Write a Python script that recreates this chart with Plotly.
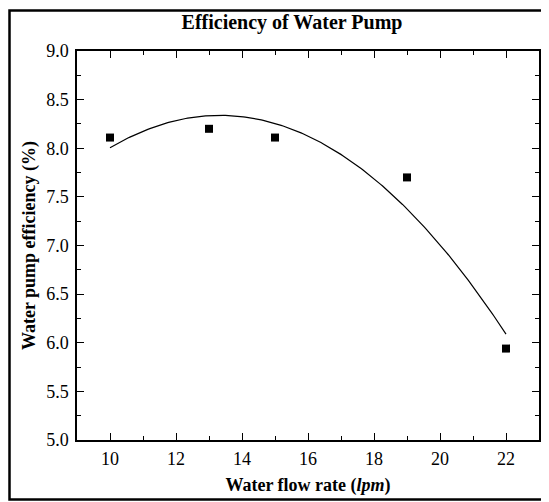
import numpy as np
import plotly.graph_objects as go

flow_rate = [10, 13, 15, 19, 22]
efficiency = [8.11, 8.20, 8.11, 7.70, 5.94]
x_ticks = [10, 12, 14, 16, 18, 20, 22]
y_ticks = [5.0, 5.5, 6.0, 6.5, 7.0, 7.5, 8.0, 8.5, 9.0]

coef = np.polyfit(flow_rate, efficiency, 2)
fit_x = np.linspace(min(flow_rate), max(flow_rate), 200)
fit_y = np.polyval(coef, fit_x)

# page has an 8px body margin; figure is sized to fit inside the window
W, H = 541, 494
ml, mr, mt, mb = 69, 10, 43, 62
pw, ph = W - ml - mr, H - mt - mb

font = "Liberation Serif, Times New Roman, serif"

fig = go.Figure()
fig.add_trace(go.Scatter(x=fit_x, y=fit_y, mode="lines",
                         line=dict(color="black", width=1.2), showlegend=False))
fig.add_trace(go.Scatter(x=flow_rate, y=efficiency, mode="markers",
                         marker=dict(symbol="square", size=8, color="black"),
                         showlegend=False))

axis_common = dict(showgrid=False, zeroline=False, showline=True, linecolor="black",
                   linewidth=1.5, mirror="ticks", ticks="inside", ticklen=7,
                   tickwidth=1.3, tickcolor="black",
                   tickfont=dict(family=font, size=18, color="black"))

fig.update_layout(
    width=W, height=H,
    margin=dict(l=ml, r=mr, t=mt, b=mb, autoexpand=False),
    paper_bgcolor="white", plot_bgcolor="white",
    title=dict(text="<b>Efficiency of Water Pump</b>", x=(284 - ml) / pw, xanchor="center",
               xref="paper", y=1 - 14 / H, yanchor="middle",
               font=dict(family=font, size=20, color="black")),
    xaxis=dict(range=[9, 23], tickvals=x_ticks, ticktext=[str(v) for v in x_ticks],
               ticklabelstandoff=2,
               minor=dict(dtick=1, ticks="inside", ticklen=4, tickcolor="black", tickwidth=1.2),
               title=dict(text="<b>Water flow rate (<i>lpm</i>)</b>", standoff=10,
                          font=dict(family=font, size=18, color="black")),
               automargin=False, **axis_common),
    yaxis=dict(range=[5, 9], tickvals=y_ticks, ticktext=[f"{v:.1f}" for v in y_ticks],
               ticklabelstandoff=3,
               minor=dict(dtick=0.25, ticks="inside", ticklen=4, tickcolor="black", tickwidth=1.2),
               title=dict(text="<b>Water pump efficiency (%)</b>", standoff=6,
                          font=dict(family=font, size=18, color="black")),
               automargin=False, **axis_common),
    shapes=[dict(type="rect", xref="paper", yref="paper",
                 x0=(1.5 - ml) / pw, x1=(539.5 - ml) / pw,
                 y0=(H - mb - 491.5) / ph, y1=1 + (mt - 2.5) / ph,
                 line=dict(color="black", width=2.5))],
)

fig.write_html("out.html")
